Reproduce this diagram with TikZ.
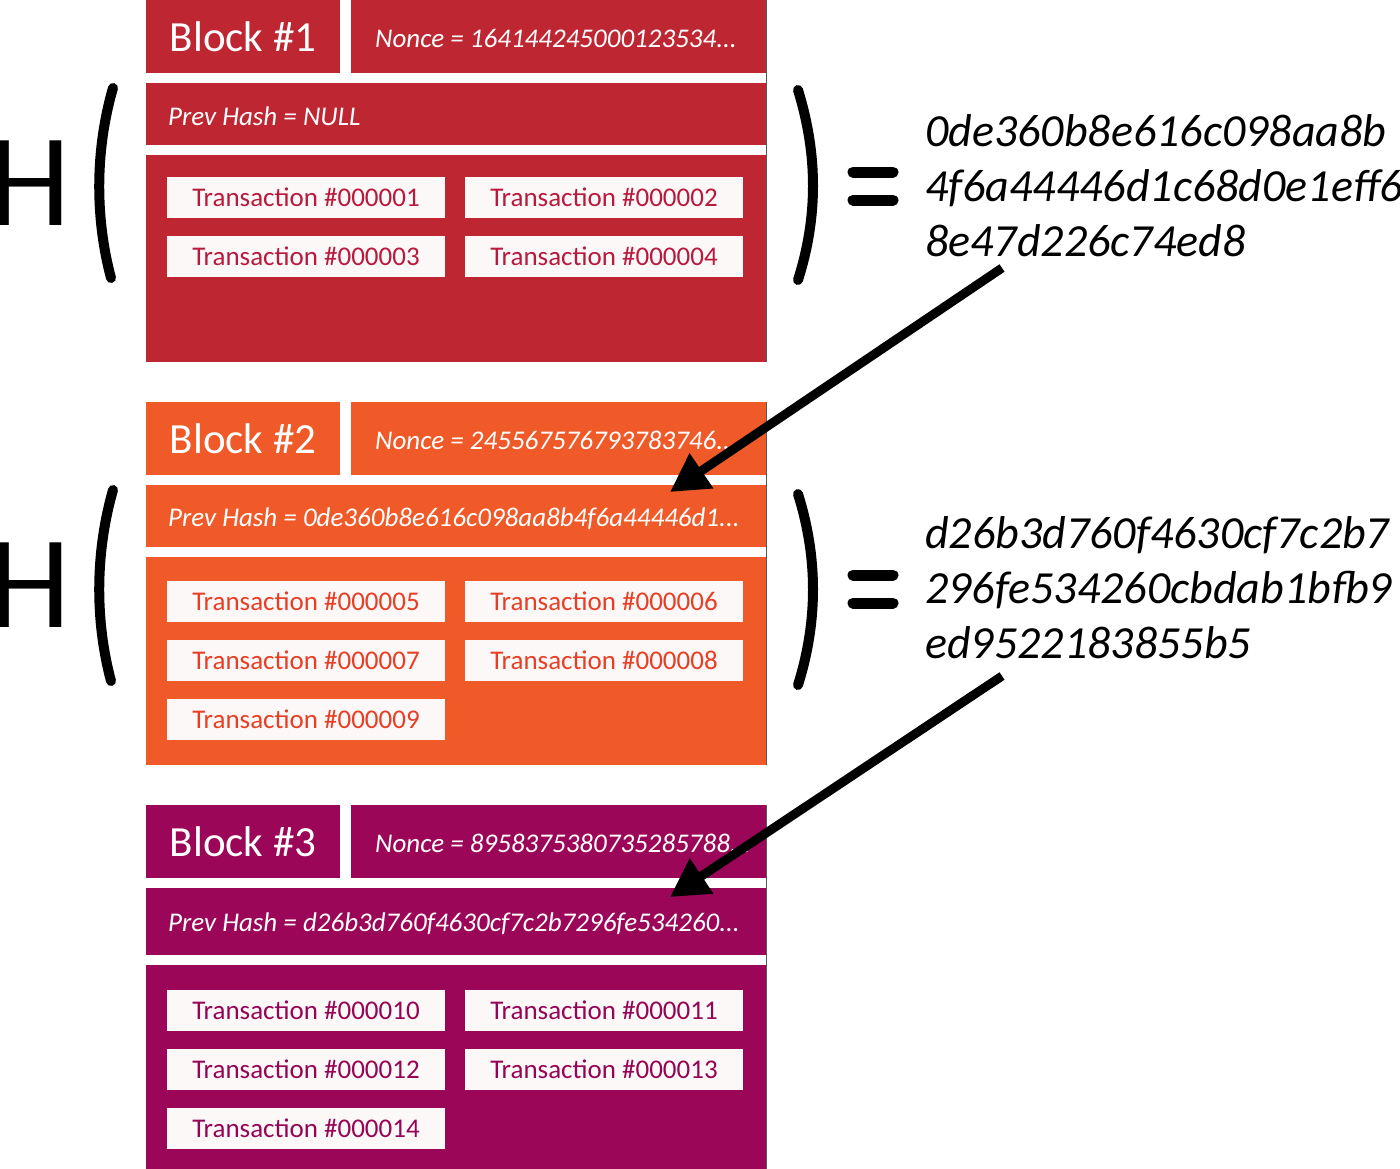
\documentclass[tikz,border=0pt]{standalone}
\usepackage{fontspec}
\setmainfont{Carlito}
\usetikzlibrary{arrows.meta,positioning}

\definecolor{blk1}{RGB}{190,38,50}
\definecolor{blk2}{RGB}{240,90,40}
\definecolor{blk3}{RGB}{155,6,88}
\definecolor{tx1}{RGB}{185,25,60}
\definecolor{tx2}{RGB}{232,62,36}
\definecolor{tx3}{RGB}{150,5,85}
\definecolor{txfill}{RGB}{253,248,248}

\begin{document}
\begin{tikzpicture}[x=1pt,y=-1pt]
            \tikzstyle{bar}=[rectangle,inner sep=0pt,anchor=north west]
            \tikzstyle{head}=[bar,minimum width=194pt,minimum height=73pt,text=white,font=\fontsize{43}{50}\selectfont]
            \tikzstyle{nonce}=[bar,minimum width=415pt,minimum height=73pt]
            \tikzstyle{prev}=[bar,minimum width=620pt]
            \tikzstyle{itl}=[anchor=west,inner sep=0pt,yshift=-2pt,text=white,font=\fontsize{27}{32}\selectfont\itshape]
            \tikzstyle{tx}=[rectangle,minimum width=278pt,minimum height=41pt,inner sep=0pt,fill=txfill,font=\fontsize{27}{32}\selectfont]
            \tikzstyle{hash}=[anchor=west,inner sep=0pt,align=left,font=\fontsize{46}{55}\selectfont\itshape]
            \tikzstyle{bigH}=[inner sep=0pt,font=\fontsize{132}{132}\selectfont]

            \tikzstyle{paren}=[line width=10pt,line cap=round]   % H( ... )
            \tikzstyle{eq}=[line width=11pt,line cap=round]      % equals
            \tikzstyle{rim}=[line width=1pt,black!65]            % right edge
            \tikzstyle{arr}=[line width=9pt,-{Triangle[length=38pt,width=40pt]}]

            \useasboundingbox (0,0) rectangle (1400,1168);

            % block 1
            \node[head,fill=blk1] (h1) at (146,0) {Block \#1};
            \node[nonce,fill=blk1] (n1) at (351,0) {};
            \node[itl] (n1t) at ([xshift=24pt]n1.west) {Nonce = 164144245000123534...};
            \node[prev,fill=blk1,minimum height=62pt] (p1) at (146,83) {};
            \node[itl] (p1t) at ([xshift=22pt]p1.west) {Prev Hash = NULL};
            \node[prev,fill=blk1,minimum height=207pt] (b1) at (146,155) {};
            \node[tx,text=tx1] (t1) at (306,197) {Transaction \#000001};
            \node[tx,text=tx1] (t2) at (604,197) {Transaction \#000002};
            \node[tx,text=tx1] (t3) at (306,256) {Transaction \#000003};
            \node[tx,text=tx1] (t4) at (604,256) {Transaction \#000004};
            \draw[rim] (n1.north east) -- (b1.south east);

            % block 2
            \node[head,fill=blk2] (h2) at (146,402) {Block \#2};
            \node[nonce,fill=blk2] (n2) at (351,402) {};
            \node[itl] (n2t) at ([xshift=24pt]n2.west) {Nonce = 245567576793783746...};
            \node[prev,fill=blk2,minimum height=62pt] (p2) at (146,485) {};
            \node[itl] (p2t) at ([xshift=22pt]p2.west) {Prev Hash = 0de360b8e616c098aa8b4f6a44446d1...};
            \node[prev,fill=blk2,minimum height=208pt] (b2) at (146,557) {};
            \node[tx,text=tx2] (t5) at (306,601) {Transaction \#000005};
            \node[tx,text=tx2] (t6) at (604,601) {Transaction \#000006};
            \node[tx,text=tx2] (t7) at (306,660) {Transaction \#000007};
            \node[tx,text=tx2] (t8) at (604,660) {Transaction \#000008};
            \node[tx,text=tx2] (t9) at (306,719) {Transaction \#000009};
            \draw[rim] (n2.north east) -- (b2.south east);

            % block 3
            \node[head,fill=blk3] (h3) at (146,805) {Block \#3};
            \node[nonce,fill=blk3] (n3) at (351,805) {};
            \node[itl] (n3t) at ([xshift=24pt]n3.west) {Nonce = 8958375380735285788...};
            \node[prev,fill=blk3,minimum height=67pt] (p3) at (146,888) {};
            \node[itl] (p3t) at ([xshift=22pt]p3.west) {Prev Hash = d26b3d760f4630cf7c2b7296fe534260...};
            \node[prev,fill=blk3,minimum height=205pt] (b3) at (146,965) {};
            \node[tx,text=tx3] (t10) at (306,1010) {Transaction \#000010};
            \node[tx,text=tx3] (t11) at (604,1010) {Transaction \#000011};
            \node[tx,text=tx3] (t12) at (306,1069) {Transaction \#000012};
            \node[tx,text=tx3] (t13) at (604,1069) {Transaction \#000013};
            \node[tx,text=tx3] (t14) at (306,1128) {Transaction \#000014};
            \draw[rim] (n3.north east) -- (b3.south east);

            % H( block 1 ) = hash
            \node[bigH] (H1) at (30,183) {H};
            \draw[paren] (113,88) .. controls (95,150) and (95,218) .. (111,278);
            \draw[paren] (798,90) .. controls (818,155) and (818,217) .. (798,280);
            \draw[eq] (853,172) -- (893,172);
            \draw[eq] (853,200) -- (893,200);
            \node[hash] (k1) at (925,186) {0de360b8e616c098aa8b\\4f6a44446d1c68d0e1eff6\\8e47d226c74ed8};

            % H( block 2 ) = hash
            \node[bigH] (H2) at (30,585) {H};
            \draw[paren] (113,490) .. controls (95,553) and (95,621) .. (111,681);
            \draw[paren] (798,494) .. controls (818,558) and (818,621) .. (798,685);
            \draw[eq] (853,575) -- (893,575);
            \draw[eq] (853,603) -- (893,603);
            \node[hash] (k2) at (925,588) {d26b3d760f4630cf7c2b7\\296fe534260cbdab1bfb9\\ed9522183855b5};

            \coordinate (a1) at (1002,268);
            \coordinate (a2) at (1002,676);
            \path[arr] (a1) edge ([xshift=524pt,yshift=-7pt]p2.north west);
            \path[arr] (a2) edge ([xshift=524pt,yshift=-9pt]p3.north west);
        \end{tikzpicture}
\end{document}
